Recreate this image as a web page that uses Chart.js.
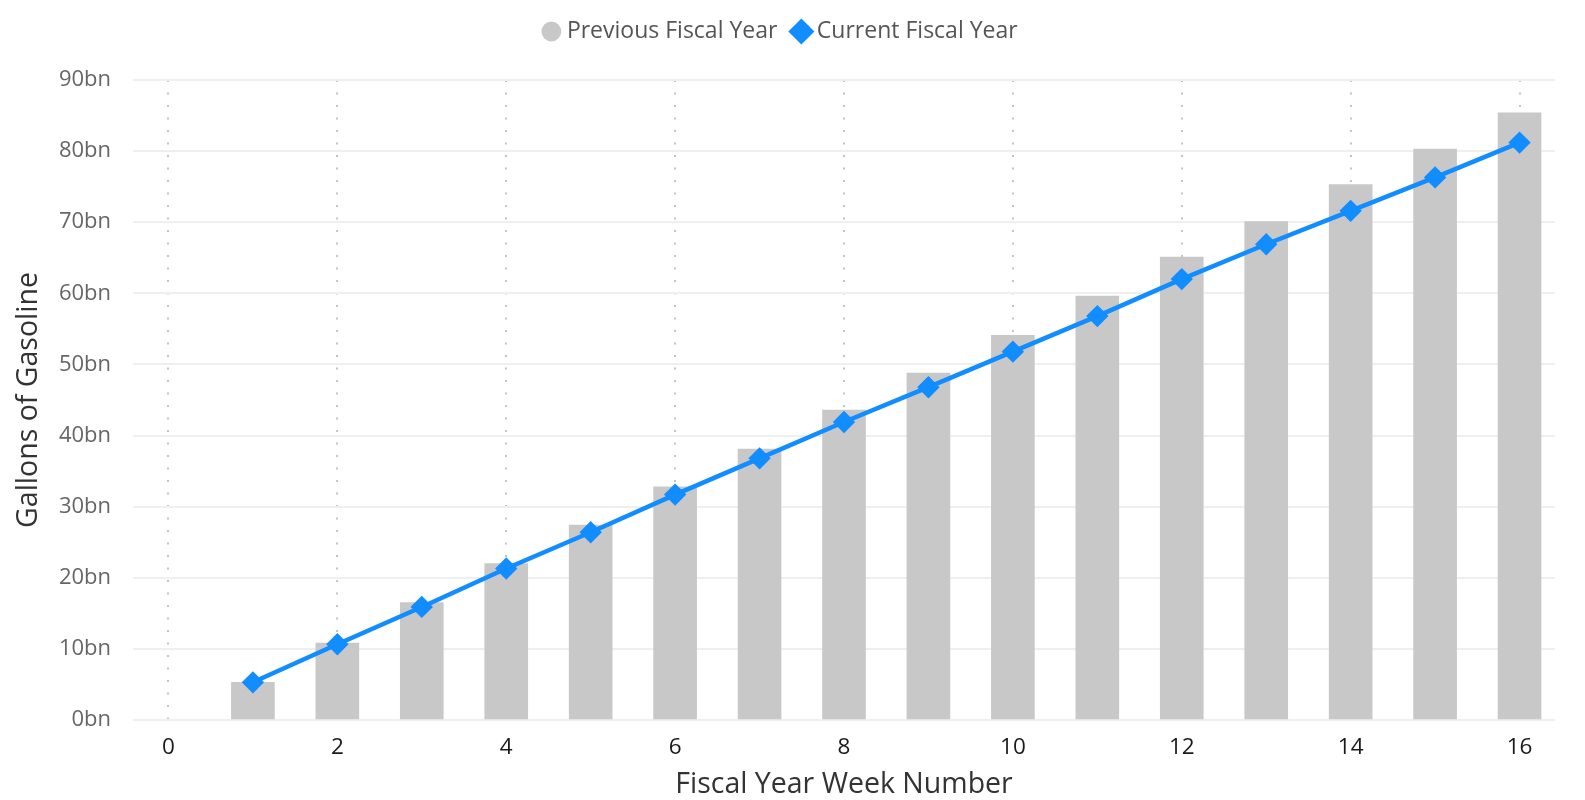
<!DOCTYPE html>
<html>
<head>
<meta charset="utf-8">
<script src="https://cdn.jsdelivr.net/npm/chart.js@4.4.0/dist/chart.umd.min.js"></script>
<style>
  body { margin: 0; background: #fff; }
  #wrap { width: 1585px; height: 800px; }
</style>
</head>
<body>
<div id="wrap"><canvas id="myChart"></canvas></div>
<script>
// week numbers and values (billions of gallons)
let weeks = [1, 2, 3, 4, 5, 6, 7, 8, 9, 10, 11, 12, 13, 14, 15, 16];
let previousYear = [5.3, 10.8, 16.5, 22.0, 27.4, 32.8, 38.1, 43.6, 48.8, 54.1, 59.6, 65.1, 70.1, 75.3, 80.3, 85.4];
let currentYear = [5.3, 10.65, 15.9, 21.3, 26.4, 31.7, 36.8, 41.9, 46.8, 51.8, 56.8, 62.0, 66.9, 71.6, 76.3, 81.2];

let xTicks = [0, 2, 4, 6, 8, 10, 12, 14, 16];
let yTicks = [0, 10, 20, 30, 40, 50, 60, 70, 80, 90];

let fontName = "'Open Sans', 'Noto Sans', sans-serif";

// legend box takes the whole strip above the plot
const legendGap = {
  id: 'legendGap',
  beforeInit(chart) {
    const fit = chart.legend.fit;
    chart.legend.fit = function () {
      fit.bind(chart.legend)();
      this.height = 80;
    };
  }
};

const ctx = document.getElementById('myChart');

new Chart(ctx, {
  type: 'line',
  data: {
    datasets: [{
      type: 'line',
      label: 'Current Fiscal Year',
      data: weeks.map((w, i) => ({ x: w, y: currentYear[i] })),
      borderColor: '#118DFF',
      backgroundColor: '#118DFF',
      borderWidth: 4.5,
      pointStyle: 'rectRot',
      pointRadius: 8,
      pointHoverRadius: 8,
      tension: 0
    }, {
      type: 'bar',
      label: 'Previous Fiscal Year',
      data: weeks.map((w, i) => ({ x: w, y: previousYear[i] })),
      backgroundColor: '#C8C8C8',
      pointStyle: 'circle',
      barThickness: 43
    }]
  },
  plugins: [legendGap],
  options: {
    responsive: true,
    maintainAspectRatio: false,
    animation: false,
    layout: { padding: { top: 0, right: 30, left: 10, bottom: 0 } },
    plugins: {
      legend: {
        position: 'top',
        reverse: true,
        labels: {
          usePointStyle: true,
          boxWidth: 8,
          boxHeight: 14,
          padding: 20,
          color: '#555',
          font: { family: fontName, size: 23 }
        }
      },
      tooltip: { enabled: false }
    },
    scales: {
      x: {
        type: 'linear',
        min: -0.42,
        max: 16.42,
        offset: false,
        afterBuildTicks: (scale) => { scale.ticks = xTicks.map(v => ({ value: v })); },
        afterFit: (scale) => { scale.height = 80; },
        grid: {
          offset: false,
          color: '#c4c4c4',
          lineWidth: 2,
          drawTicks: false
        },
        border: { display: false, dash: [2, 10.5] },
        ticks: {
          color: '#1a1a1a',
          padding: 16,
          maxRotation: 0,
          font: { family: fontName, size: 22.5, lineHeight: 1.0 }
        },
        title: {
          display: true,
          text: 'Fiscal Year Week Number',
          color: '#333',
          padding: { top: 0, bottom: 1 },
          font: { family: fontName, size: 28.5, lineHeight: 1.0 }
        }
      },
      y: {
        min: 0,
        max: 90,
        afterBuildTicks: (scale) => { scale.ticks = yTicks.map(v => ({ value: v })); },
        afterFit: (scale) => { scale.width = 123; },
        grid: {
          color: '#efefef',
          lineWidth: 2,
          drawTicks: false
        },
        border: { display: false },
        ticks: {
          color: '#666',
          padding: 22,
          font: { family: fontName, size: 22 },
          callback: (v) => v + 'bn'
        },
        title: {
          display: true,
          text: 'Gallons of Gasoline',
          color: '#333',
          padding: { top: 5, bottom: 0 },
          font: { family: fontName, size: 28.5, lineHeight: 1.0 }
        }
      }
    }
  }
});
</script>
</body>
</html>
